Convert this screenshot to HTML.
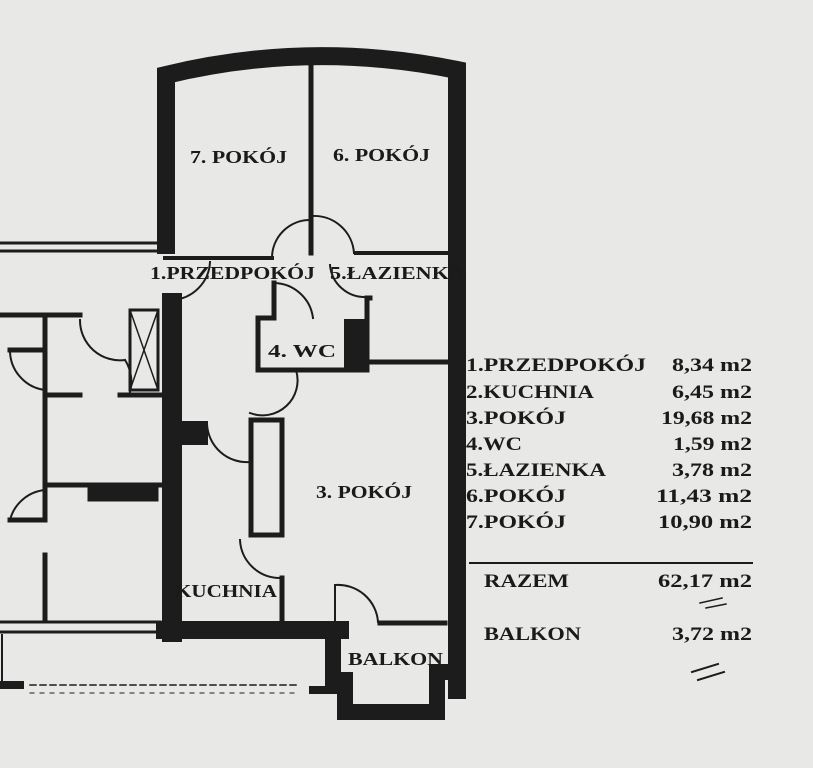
<!DOCTYPE html>
<html><head><meta charset="utf-8"><style>
html,body{margin:0;padding:0;background:#e8e8e6}
svg{display:block}
text{font-family:"Liberation Serif",serif;font-weight:bold;fill:#1a1a1a}
</style></head><body>
<svg width="813" height="768" viewBox="0 0 813 768" xmlns="http://www.w3.org/2000/svg">
<rect width="813" height="768" fill="#e8e8e6"/>
<g stroke="#1c1c1c" fill="none" stroke-linecap="square">
<path d="M166 245 L166 75 Q310 40 457 70 L457 690" stroke-width="18"/>
<line x1="0" y1="243" x2="160" y2="243" stroke-width="3"/>
<line x1="0" y1="251" x2="160" y2="251" stroke-width="3"/>
<line x1="311" y1="62" x2="311" y2="253" stroke-width="5"/>
<line x1="165" y1="258" x2="272" y2="258" stroke-width="4"/>
<line x1="356" y1="253" x2="447" y2="253" stroke-width="4"/>
<path d="M272 258 A38 38 0 0 1 310 220" stroke-width="2"/>
<path d="M312 216 A40 40 0 0 1 354 253" stroke-width="2"/>
<path d="M210 262 A40 40 0 0 1 172 300" stroke-width="2"/>
<path d="M274 283 A40 40 0 0 1 313 318" stroke-width="2"/>
<path d="M330 265 A35 35 0 0 0 367 297" stroke-width="2"/>
<path d="M274 283 L274 318 L258 318 L258 370 L367 370 L367 298 L370 298" stroke-width="5"/>
<rect x="345" y="320" width="20" height="48" fill="#1c1c1c" stroke-width="2"/>
<line x1="367" y1="362" x2="447" y2="362" stroke-width="5"/>
<path d="M296 370 A35 35 0 0 1 250 413" stroke-width="2"/>
<line x1="172" y1="303" x2="172" y2="632" stroke-width="20"/>
<rect x="130" y="310" width="28" height="80" stroke-width="3"/>
<path d="M130 310 L158 390 M158 310 L130 390" stroke-width="1.5"/>
<rect x="182" y="422" width="25" height="22" fill="#1c1c1c" stroke-width="2"/>
<path d="M207 424 A40 40 0 0 0 250 462" stroke-width="2"/>
<rect x="251" y="420" width="31" height="115" stroke-width="5"/>
<path d="M240 540 A40 40 0 0 0 280 578" stroke-width="2"/>
<line x1="282" y1="578" x2="282" y2="622" stroke-width="5"/>
<line x1="165" y1="630" x2="340" y2="630" stroke-width="18"/>
<line x1="380" y1="623" x2="445" y2="623" stroke-width="5"/>
<path d="M335 585 A40 40 0 0 1 378 622" stroke-width="2"/>
<line x1="335" y1="585" x2="335" y2="622" stroke-width="2"/>
<path d="M333 630 L333 680 L345 680 L345 712 L437 712 L437 672 L450 672" stroke-width="16"/>
<line x1="0" y1="315" x2="80" y2="315" stroke-width="5"/>
<path d="M45 320 L45 350 L10 350 M45 350 L45 395 L80 395 M45 395 L45 482" stroke-width="5"/>
<path d="M10 350 A40 40 0 0 0 45 390" stroke-width="2"/>
<path d="M80 320 A40 40 0 0 0 125 360 M125 360 A40 40 0 0 1 130 392" stroke-width="2"/>
<line x1="120" y1="395" x2="160" y2="395" stroke-width="5"/>
<line x1="45" y1="485" x2="160" y2="485" stroke-width="5"/>
<rect x="88" y="487" width="70" height="14" fill="#1c1c1c" stroke-width="1"/>
<path d="M45 485 L45 520 L10 520 M45 555 L45 620" stroke-width="5"/>
<path d="M45 490 A40 40 0 0 0 10 520" stroke-width="2"/>
<line x1="0" y1="622" x2="160" y2="622" stroke-width="3"/>
<line x1="0" y1="632" x2="160" y2="632" stroke-width="3"/>
<line x1="2" y1="635" x2="2" y2="680" stroke-width="2"/>
<line x1="0" y1="685" x2="20" y2="685" stroke-width="8"/>
<line x1="30" y1="685" x2="300" y2="685" stroke-width="1.5" stroke-dasharray="6 4"/>
<line x1="30" y1="693" x2="300" y2="693" stroke-width="1" stroke-dasharray="4 6"/>
<line x1="313" y1="690" x2="333" y2="690" stroke-width="8"/>
<line x1="470" y1="563" x2="752" y2="563" stroke-width="2"/>
<line x1="700" y1="603" x2="722" y2="598" stroke-width="1.5"/>
<line x1="706" y1="608" x2="726" y2="604" stroke-width="1.5"/>
<line x1="692" y1="672" x2="718" y2="664" stroke-width="2"/>
<line x1="698" y1="680" x2="724" y2="672" stroke-width="2"/>
</g>
<g font-size="18" lengthAdjust="spacingAndGlyphs">
<text x="190" y="163" textLength="97" lengthAdjust="spacingAndGlyphs">7. POKÓJ</text>
<text x="333" y="161" textLength="97" lengthAdjust="spacingAndGlyphs">6. POKÓJ</text>
<text x="150" y="279" textLength="165" lengthAdjust="spacingAndGlyphs">1.PRZEDPOKÓJ</text>
<text x="330" y="279" textLength="135" lengthAdjust="spacingAndGlyphs">5.ŁAZIENKA</text>
<text x="268" y="357" textLength="68" lengthAdjust="spacingAndGlyphs">4. WC</text>
<text x="316" y="498" textLength="96" lengthAdjust="spacingAndGlyphs">3. POKÓJ</text>
<text x="175" y="597" textLength="102" lengthAdjust="spacingAndGlyphs">KUCHNIA</text>
<text x="348" y="665" textLength="95" lengthAdjust="spacingAndGlyphs">BALKON</text>
</g>
<g font-size="19">
<text x="466" y="371" textLength="180" lengthAdjust="spacingAndGlyphs">1.PRZEDPOKÓJ</text>
<text x="466" y="398" textLength="128" lengthAdjust="spacingAndGlyphs">2.KUCHNIA</text>
<text x="466" y="424" textLength="100" lengthAdjust="spacingAndGlyphs">3.POKÓJ</text>
<text x="466" y="450" textLength="56" lengthAdjust="spacingAndGlyphs">4.WC</text>
<text x="466" y="476" textLength="140" lengthAdjust="spacingAndGlyphs">5.ŁAZIENKA</text>
<text x="466" y="502" textLength="100" lengthAdjust="spacingAndGlyphs">6.POKÓJ</text>
<text x="466" y="528" textLength="100" lengthAdjust="spacingAndGlyphs">7.POKÓJ</text>
<text x="484" y="587" textLength="85" lengthAdjust="spacingAndGlyphs">RAZEM</text>
<text x="484" y="640" textLength="97" lengthAdjust="spacingAndGlyphs">BALKON</text>
<text x="672" y="371" textLength="80" lengthAdjust="spacingAndGlyphs">8,34 m2</text>
<text x="672" y="398" textLength="80" lengthAdjust="spacingAndGlyphs">6,45 m2</text>
<text x="661" y="424" textLength="91" lengthAdjust="spacingAndGlyphs">19,68 m2</text>
<text x="673" y="450" textLength="79" lengthAdjust="spacingAndGlyphs">1,59 m2</text>
<text x="672" y="476" textLength="80" lengthAdjust="spacingAndGlyphs">3,78 m2</text>
<text x="656" y="502" textLength="96" lengthAdjust="spacingAndGlyphs">11,43 m2</text>
<text x="658" y="528" textLength="94" lengthAdjust="spacingAndGlyphs">10,90 m2</text>
<text x="658" y="587" textLength="94" lengthAdjust="spacingAndGlyphs">62,17 m2</text>
<text x="672" y="640" textLength="80" lengthAdjust="spacingAndGlyphs">3,72 m2</text>
</g>
</svg>
</body></html>
